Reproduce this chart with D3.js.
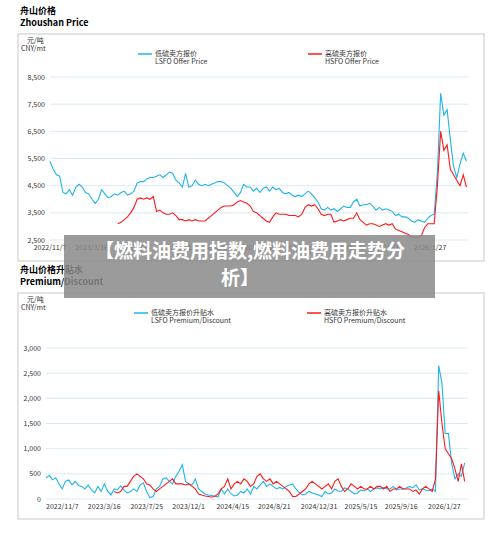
<!DOCTYPE html>
<html><head><meta charset="utf-8">
<script src="https://cdn.jsdelivr.net/npm/d3@7"></script>
<style>body{margin:0;background:#fff;font-family:"Noto Sans CJK SC","Noto Sans",sans-serif}</style>
</head><body>
<svg id="c" width="500" height="534"></svg>
<script>
// 10-day sampling from 2022/11/7
const startDate = new Date(2022, 10, 7);
const tickLabels = ["2022/11/7","2023/3/16","2023/7/25","2023/12/1","2024/4/15","2024/8/21","2024/12/31","2025/5/15","2025/9/16","2026/1/27"];

const lsfoPrice = [5400,5100,4900,4850,4250,4200,4350,4150,4450,4550,4450,4250,4200,4000,3850,4000,4350,4200,4050,4100,
4200,4150,4250,4300,4150,4200,4300,4600,4650,4650,4750,4800,4800,4850,4900,4800,4900,5000,4950,4700,
4600,4450,4950,4450,4500,4700,4550,4500,4550,4500,4550,4600,4650,4650,4600,4500,4400,4250,4100,4250,
4550,4450,4450,4300,4400,4250,4400,4450,4300,4450,4350,4400,4250,4200,4250,4150,4100,4150,4100,4200,
4300,4200,4050,3900,3650,3600,3700,3600,3650,3550,3650,3750,3700,3700,3900,4000,3750,3800,3800,3850,
3750,3600,3700,3600,3650,3600,3550,3400,3450,3350,3350,3300,3200,3150,3250,3200,3150,3300,3400,3450,
5000,7900,7100,7300,6200,5200,4800,5300,5700,5400];
const hsfoPrice = [null,null,null,null,null,null,null,null,null,null,null,null,null,null,null,null,null,null,null,null,null,
3100,3150,3250,3350,3500,3700,4000,4050,4000,4050,4000,4100,3550,3600,3500,3450,3450,3500,3400,
3250,3250,3200,3250,3200,3250,3200,3200,3200,3300,3400,3500,3600,3700,3750,3750,3750,3800,3900,3950,
3900,3850,3750,3550,3500,3400,3300,3200,3150,3350,3500,3450,3450,3450,3400,3400,3400,3350,3450,3700,
3800,3750,3800,3650,3450,3400,3450,3450,3150,3200,3250,3200,3250,3300,3300,3500,3250,3150,3050,3100,
3100,3050,3000,3050,3100,3050,3100,2900,2850,2800,2750,2700,2600,2600,2600,2650,2950,3100,3100,3100,
4500,6500,5800,6000,5100,4900,4700,4500,4900,4450];
const lsfoPrem = [420,470,380,420,300,200,350,380,280,350,270,250,200,280,180,120,250,150,300,150,
80,200,180,260,180,120,150,200,150,280,320,150,30,50,200,250,400,420,350,300,
450,550,680,350,300,280,400,200,150,100,80,70,60,40,200,100,200,100,60,80,
150,120,200,100,250,200,280,350,250,300,250,200,230,200,250,280,300,200,130,80,
100,150,120,100,80,50,150,100,120,200,160,150,220,200,150,100,120,180,160,200,
150,200,220,200,230,200,200,250,180,200,200,220,250,220,280,180,200,180,170,200,
150,2650,2300,1300,1300,700,400,500,450,720];
const hsfoPrem = [null,null,null,null,null,null,null,null,null,null,null,null,null,null,null,null,null,null,null,null,null,
150,120,150,250,250,350,450,500,450,400,300,280,200,150,200,250,300,350,400,
300,300,300,280,300,250,200,100,80,60,50,40,50,100,200,250,400,200,300,350,
300,400,350,250,300,450,500,400,350,400,300,350,300,250,200,150,50,50,100,150,
200,300,350,300,250,200,250,300,200,350,400,250,150,200,300,250,200,250,200,200,
250,200,250,250,200,250,150,200,200,250,200,200,200,150,180,100,200,250,200,150,
400,2150,1500,1000,900,800,600,350,700,350];

const blue = "#1eb4ec", red = "#ff1a1a";
const svg = d3.select("#c");
const parse = d3.timeParse("%Y/%m/%d");
const dates = lsfoPrice.map((d, i) => d3.timeDay.offset(startDate, i * 10));

function panel(o) {
  const g = svg.append("g");
  g.append("text").attr("x", 20).attr("y", o.top - 20).attr("font-size", 9).attr("font-weight", "bold").text(o.title1);
  g.append("text").attr("x", 20).attr("y", o.top - 8).attr("font-size", 9).attr("font-weight", "bold").text(o.title2);
  g.append("rect").attr("x", 18).attr("y", o.top).attr("width", 466).attr("height", o.h)
    .attr("fill", "#fff").attr("stroke", "#c8c8c8");
  g.append("text").attr("x", 27).attr("y", o.top + 9).attr("font-size", 7).attr("fill", "#333").text("元/吨");
  g.append("text").attr("x", 21).attr("y", o.top + 17).attr("font-size", 7).attr("fill", "#333").text("CNY/mt");

  const x = d3.scaleTime().domain([startDate, parse("2026/1/27")]).range([o.x0, o.x1]);
  const y = d3.scaleLinear().domain(o.domain).range([o.yb, o.yt]);

  // grid
  o.ticks.forEach(t => {
    g.append("line").attr("x1", o.gx0).attr("x2", 468).attr("y1", y(t)).attr("y2", y(t))
      .attr("stroke", "#dbe9f6").attr("stroke-width", 1);
    g.append("text").attr("x", o.lx).attr("y", y(t) + 2.5).attr("text-anchor", "end")
      .attr("font-size", 7).attr("fill", "#333").text(d3.format(",")(t));
  });
  tickLabels.forEach(s => {
    g.append("text").attr("x", x(parse(s))).attr("y", o.yb + 10).attr("text-anchor", o.anchor)
      .attr("font-size", 7).attr("fill", "#333").text(s);
  });

  // legend
  o.legend.forEach((l, k) => {
    const lx = o.legX[k];
    g.append("line").attr("x1", lx).attr("x2", lx + 14).attr("y1", o.top + 20).attr("y2", o.top + 20)
      .attr("stroke", l.c).attr("stroke-width", 1.5);
    g.append("text").attr("x", lx + 17).attr("y", o.top + 22).attr("font-size", 7).attr("fill", "#333").text(l.a);
    g.append("text").attr("x", lx + 17).attr("y", o.top + 30).attr("font-size", 7).attr("fill", "#333").text(l.b);
  });

  const line = d3.line().defined(d => d[1] != null).x(d => x(d[0])).y(d => y(d[1]));
  o.series.forEach(s => {
    g.append("path").datum(dates.map((d, i) => [d, s.v[i]]))
      .attr("d", line).attr("fill", "none").attr("stroke", s.c).attr("stroke-width", 1.1);
  });
}

panel({title1: "舟山价格", title2: "Zhoushan Price", top: 34, h: 227,
  x0: 50, x1: 430, gx0: 50, yb: 240, yt: 77, domain: [2500, 8500], ticks: [2500,3500,4500,5500,6500,7500,8500],
  lx: 45, anchor: "middle", legX: [138, 308],
  legend: [{c: blue, a: "低硫卖方报价", b: "LSFO Offer Price"}, {c: red, a: "高硫卖方报价", b: "HSFO Offer Price"}],
  series: [{v: lsfoPrice, c: blue}, {v: hsfoPrice, c: red}]});

panel({title1: "舟山价格升贴水", title2: "Premium/Discount", top: 293, h: 226,
  x0: 46, x1: 428, gx0: 46, yb: 499, yt: 348, domain: [0, 3000], ticks: [0,500,1000,1500,2000,2500,3000],
  lx: 41, anchor: "start", legX: [134, 307],
  legend: [{c: blue, a: "低硫卖方报价升贴水", b: "LSFO Premium/Discount"}, {c: red, a: "高硫卖方报价升贴水", b: "HSFO Premium/Discount"}],
  series: [{v: lsfoPrem, c: blue}, {v: hsfoPrem, c: red}]});

// overlay banner
svg.append("rect").attr("x", 64).attr("y", 235).attr("width", 371).attr("height", 63)
  .attr("fill", "#8a8a8a").attr("opacity", 0.85);
svg.append("text").attr("x", 250).attr("y", 258).attr("text-anchor", "middle").attr("fill", "#fff")
  .attr("font-size", 19).attr("font-weight", "bold").text("【燃料油费用指数,燃料油费用走势分");
svg.append("text").attr("x", 240).attr("y", 285).attr("text-anchor", "middle").attr("fill", "#fff")
  .attr("font-size", 19).attr("font-weight", "bold").text("析】");
</script>
</body></html>
